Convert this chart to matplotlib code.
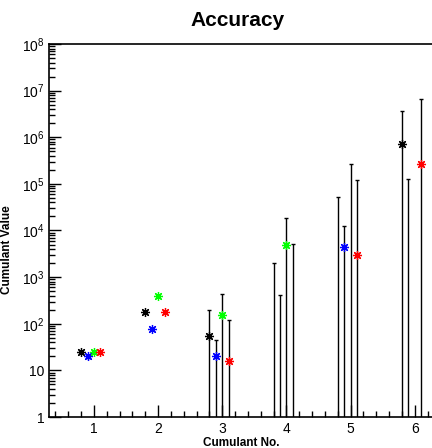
import numpy as np
import matplotlib
matplotlib.use("Agg")
import matplotlib.pyplot as plt
from matplotlib.ticker import LogLocator, FixedLocator, NullFormatter

plt.rcParams['font.family'] = ['Liberation Sans', 'DejaVu Sans']
plt.rcParams['mathtext.fontset'] = 'custom'
plt.rcParams['mathtext.rm'] = 'Liberation Sans'
plt.rcParams['mathtext.it'] = 'Liberation Sans'

cumulant = np.array([1, 2, 3, 4, 5, 6])
offsets = [-0.2, -0.1, 0.0, 0.1]
colors = ['black', '#0000ff', '#00ff00', '#ff0000']

# values and errors per series (negative value -> no marker on log axis)
val_k = [25, 175, 55, -1000, -20000, 701000]
err_k = [1.5, 5, 138, 2985, 73200, 2.99e6]
val_b = [20, 79, 20.5, -200, 4520, -50000]
err_b = [1.2, 3, 23.5, 615, 7980, 177000]
val_g = [25, 390, 155, 5000, -100000, np.nan]
err_g = [1.5, 8, 269, 13900, 365000, np.nan]
val_r = [25, 175, 16, -2000, 3050, 262000]
err_r = [1.5, 5, 102, 7140, 117550, 6.29e6]

series = [(val_k, err_k), (val_b, err_b), (val_g, err_g), (val_r, err_r)]

fig = plt.figure(figsize=(4.32, 4.48), dpi=100)
ax = fig.add_axes([49/432, 31/448, 385/432, 373/448])

for (vals, errs), off, col in zip(series, offsets, colors):
    x = cumulant + off
    v = np.array(vals, dtype=float)
    e = np.array(errs, dtype=float)
    hi = v + e
    lo = v - e
    ok = np.isfinite(hi) & (hi > 0)
    ax.vlines(x[ok], np.maximum(lo[ok], 0.1), hi[ok], color='black', lw=1.0, zorder=2)
    ax.plot(x[ok], hi[ok], ls='none', marker='_', ms=3, mew=1.0, color='black', zorder=2)
    ok_lo = ok & (lo > 1)
    ax.plot(x[ok_lo], lo[ok_lo], ls='none', marker='_', ms=3, mew=1.0, color='black', zorder=2)
    pos = np.isfinite(v) & (v > 0)
    ax.plot(x[pos], v[pos], ls='none', marker=(8, 2, 0), ms=6.5, mew=0.9, color=col, zorder=3)

ax.set_yscale('log')
ax.set_ylim(1, 1e8)
ax.set_xlim(0.3, 6.3)

ax.yaxis.set_minor_locator(LogLocator(base=10, subs=np.arange(2, 10), numticks=20))
ax.yaxis.set_minor_formatter(NullFormatter())
ylabels = ['1', '10'] + ['$10^{%d}$' % k for k in range(2, 9)]
ax.yaxis.set_major_locator(FixedLocator([10.0**k for k in range(0, 9)]))
ax.set_yticklabels(ylabels)

ax.xaxis.set_major_locator(FixedLocator(cumulant))
ax.xaxis.set_minor_locator(FixedLocator(np.arange(0.4, 6.3, 0.2)))
ax.set_xticklabels([str(c) for c in cumulant])

ax.tick_params(which='both', direction='in', top=False, right=False, width=1.0)
ax.tick_params(which='major', length=8.5)
ax.tick_params(which='minor', length=4)
ax.tick_params(axis='y', which='major', labelsize=10, pad=3)
ax.tick_params(axis='x', which='major', labelsize=10, pad=3.5)

for s in ax.spines.values():
    s.set_linewidth(1.2)

ax.set_title('Accuracy', fontsize=15, fontweight='bold', pad=13, x=0.49)
ax.set_xlabel('Cumulant No.', fontsize=8.5, fontweight='bold', labelpad=0.5)
ax.set_ylabel('Cumulant Value', fontsize=8.5, fontweight='bold', labelpad=6)
ax.yaxis.set_label_coords(-0.094, 0.45)

fig.savefig('out.png', dpi=100)
